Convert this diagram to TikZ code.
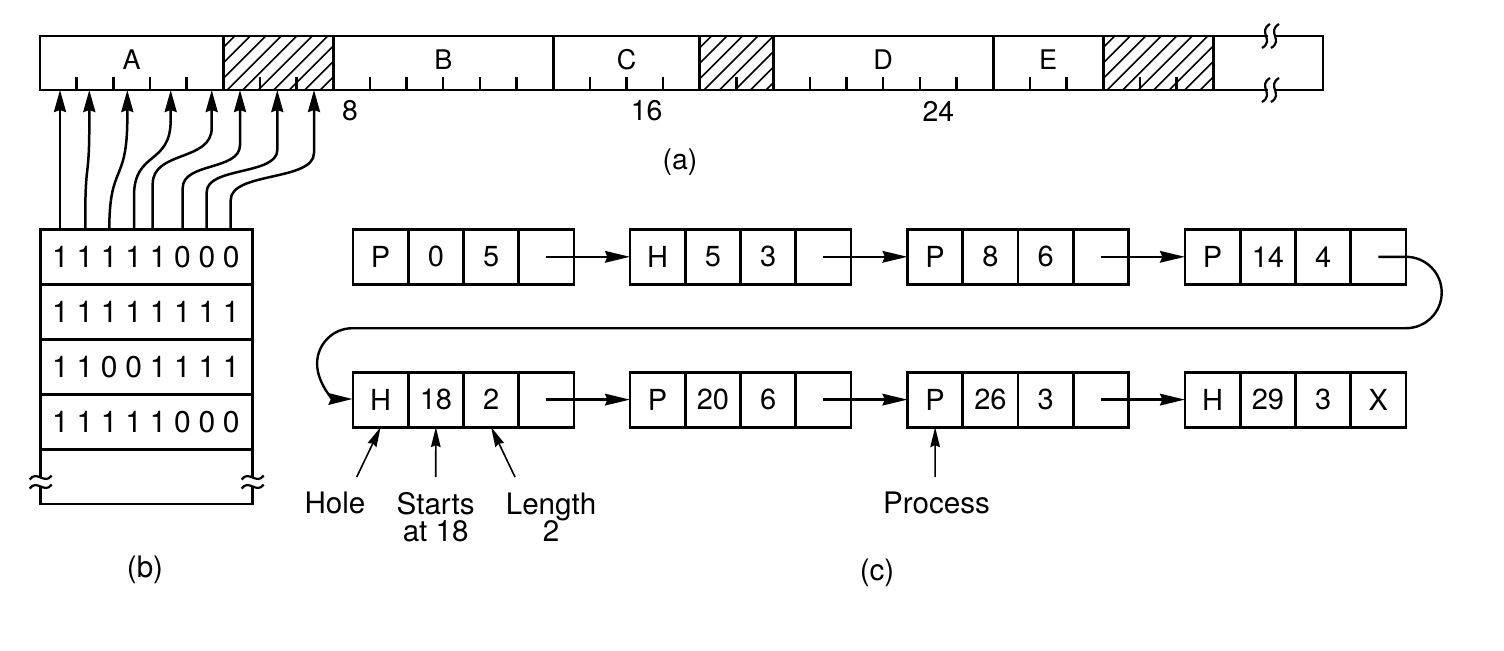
\documentclass[tikz,border=0pt]{standalone}
\usepackage{fontspec}
\setmainfont{TeX Gyre Heros}
\usetikzlibrary{arrows.meta,calc}
\begin{document}
\begin{tikzpicture}[x=0.5pt,y=-0.5pt,
  outline/.style={line width=1.45pt},
  tickmark/.style={line width=1.2pt},
  hatchline/.style={line width=0.8pt},
  seglab/.style={inner sep=0pt,font=\fontsize{13.5}{14}\selectfont},
  numlab/.style={inner sep=0pt,font=\fontsize{14.2}{14}\selectfont},
  digit/.style={inner sep=0pt,font=\fontsize{15}{15}\selectfont},
  lab/.style={inner sep=0pt,font=\fontsize{14.8}{13.8}\selectfont},
  cell/.style={draw,line width=1.45pt,minimum width=27.625pt,minimum height=27.5pt,
    inner sep=0pt,outer sep=0pt,font=\fontsize{14.5}{14}\selectfont},
  bmrow/.style={draw,line width=1.45pt,minimum width=106pt,minimum height=27.5pt,
    inner sep=0pt,outer sep=0pt},
  bmarrow/.style={line width=1.25pt,-{Stealth[length=11pt,width=6pt,inset=1pt]}},
  lnk/.style={line width=1.2pt,-{Stealth[length=12.5pt,width=5.8pt,inset=1.2pt]}},
  uturn/.style={line width=1.2pt,-{Stealth[length=12pt,width=5.8pt,inset=1.2pt]}},
  labarrow/.style={line width=0.8pt,-{Stealth[length=10pt,width=4.8pt,inset=1pt]}},
  brk/.style={line width=1.1pt}
]
\useasboundingbox (0,0) rectangle (1504,650);

% ---------- (a) memory bar ----------
\foreach \a/\b in {5/8,18/20,29/32}{
  \begin{scope}
    \clip ({40+\a*36.66},36) rectangle ({40+\b*36.66},90);
    \foreach \s in {-60,-44.5,...,125}
      \draw[hatchline] ({40+\a*36.66+\s},92) -- ++(58,-58);
  \end{scope}
}
\draw[outline] (40,36) rectangle (1323,90);
\foreach \u in {5,8,14,18,20,26,29,32}
  \draw[outline] ({40+\u*36.66},36) -- ({40+\u*36.66},90);
\foreach \u in {1,2,3,4,6,7,9,10,11,12,13,15,16,17,19,21,22,23,24,25,27,28,30,31}
  \draw[tickmark] ({40+\u*36.66},90) -- ++(0,-13);

\node[seglab] (lA) at ({40+2.5*36.66},60) {A};
\node[seglab] (lB) at ({40+11*36.66},60) {B};
\node[seglab] (lC) at ({40+16*36.66},60) {C};
\node[seglab] (lD) at ({40+23*36.66},60) {D};
\node[seglab] (lE) at ({40+27.5*36.66},60) {E};

\node[numlab] (n8) at (350,111) {8};
\node[numlab] (n16) at (646.7,111) {16};
\node[numlab] (n24) at (938.3,111) {24};
\node[numlab] (capa) at (680,161.7) {(a)};

% break marks on the bar
\foreach \y in {36,90}{
  \draw[white,line width=2.2pt] (1268,\y) -- (1274,\y);
  \foreach \x in {1266,1275}
    \draw[brk] (\x+4,\y-12) .. controls (\x-9,\y-4) and (\x+9,\y+4) .. (\x-4,\y+12);
}

% ---------- (b) bitmap ----------
\node[bmrow] (bm1) at (146.7,256.8) {};
\node[bmrow] (bm2) at (146.7,311.8) {};
\node[bmrow] (bm3) at (146.7,366.8) {};
\node[bmrow] (bm4) at (146.7,421.8) {};
\draw[outline] (40.7,449.3) -- (40.7,477.5);
\draw[outline] (40.7,486.5) -- (40.7,504) -- (252.7,504) -- (252.7,486.5);
\draw[outline] (252.7,477.5) -- (252.7,449.3);
\foreach \x in {40.7,252.7}
  \foreach \y in {477.5,486.5}
    \draw[brk] (\x-11,\y+2) .. controls (\x-4,\y-8) and (\x+4,\y+8) .. (\x+11,\y-2);

\foreach \r/\yc/\bits in {1/256.8/{1,1,1,1,1,0,0,0},2/311.8/{1,1,1,1,1,1,1,1},
                          3/366.8/{1,1,0,0,1,1,1,1},4/421.8/{1,1,1,1,1,0,0,0}}{
  \foreach \bit [count=\c] in \bits
    \node[digit] (d\r-\c) at ({60.5+(\c-1)*24.4},\yc) {\bit};
}
\node[lab] (capb) at (145,570) {(b)};

% arrows from bitmap to memory
\foreach \i/\xb/\ya/\xt/\yb in {1/60/180/60/150, 2/85.3/215/89.3/125, 3/109.3/229.3/127.3/118,
    4/134/196/170.7/120, 5/152.7/184/211.7/128, 6/182.7/188/240/145,
    7/206.7/192/277.3/150, 8/230.7/200/314/153}{
  \coordinate (sb\i) at (\xb,229.3);
  \coordinate (tp\i) at (\xt,90);
  \draw[bmarrow] (sb\i) -- (\xb,\ya) .. controls (\xb,{\ya-0.6*(\ya-\yb)}) and (\xt,{\yb+0.6*(\ya-\yb)}) .. (\xt,\yb) -- (tp\i);
}

% ---------- (c) linked list ----------
\foreach \r/\b/\x/\y/\ta/\tb/\tc/\td in {
   1/1/353/256.8/P/0/5/{}, 1/2/630/256.8/H/5/3/{}, 1/3/907.5/256.8/P/8/6/{}, 1/4/1185/256.8/P/14/4/{},
   2/1/353/399.6/H/18/2/{}, 2/2/630/399.6/P/20/6/{}, 2/3/907.5/399.6/P/26/3/{}, 2/4/1185/399.6/H/29/3/X}{
  \node[cell] (r\r-\b-1) at ({\x+27.625},\y) {\ta};
  \node[cell] (r\r-\b-2) at ({\x+82.875},\y) {\tb};
  \node[cell] (r\r-\b-3) at ({\x+138.125},\y) {\tc};
  \node[cell] (r\r-\b-4) at ({\x+193.375},\y) {\td};
}
\foreach \r in {1,2}
  \foreach \b/\n in {1/2,2/3,3/4}
    \draw[lnk] (r\r-\b-4.center) -- (r\r-\n-1.west);

\coordinate (ub) at (352.5,328.2);
\draw[uturn] (r1-4-4.center) -- (r1-4-4.east) arc[start angle=90,end angle=-90,radius=17.85pt]
  -- (ub) arc[start angle=90,end angle=270,radius=17.7pt];

\node[lab] (hole) at (335,503) {Hole};
\node[lab,align=center] (starts) at (435.7,517) {Starts\\at 18};
\node[lab,align=center] (length) at (551,517) {Length\\2};
\node[lab] (proc) at (936.5,503) {Process};
\coordinate (hs) at (356.7,477);
\coordinate (ss) at (435.7,477);
\coordinate (ls) at (515,477);
\coordinate (ps) at (935.1,477);
\draw[labarrow] (hs) -- (r2-1-1.south);
\draw[labarrow] (ss) -- (r2-1-2.south);
\draw[labarrow] (ls) -- (r2-1-3.south);
\draw[labarrow] (ps) -- (r2-3-1.south);
\node[lab] (capc) at (877,573) {(c)};
\end{tikzpicture}
\end{document}
